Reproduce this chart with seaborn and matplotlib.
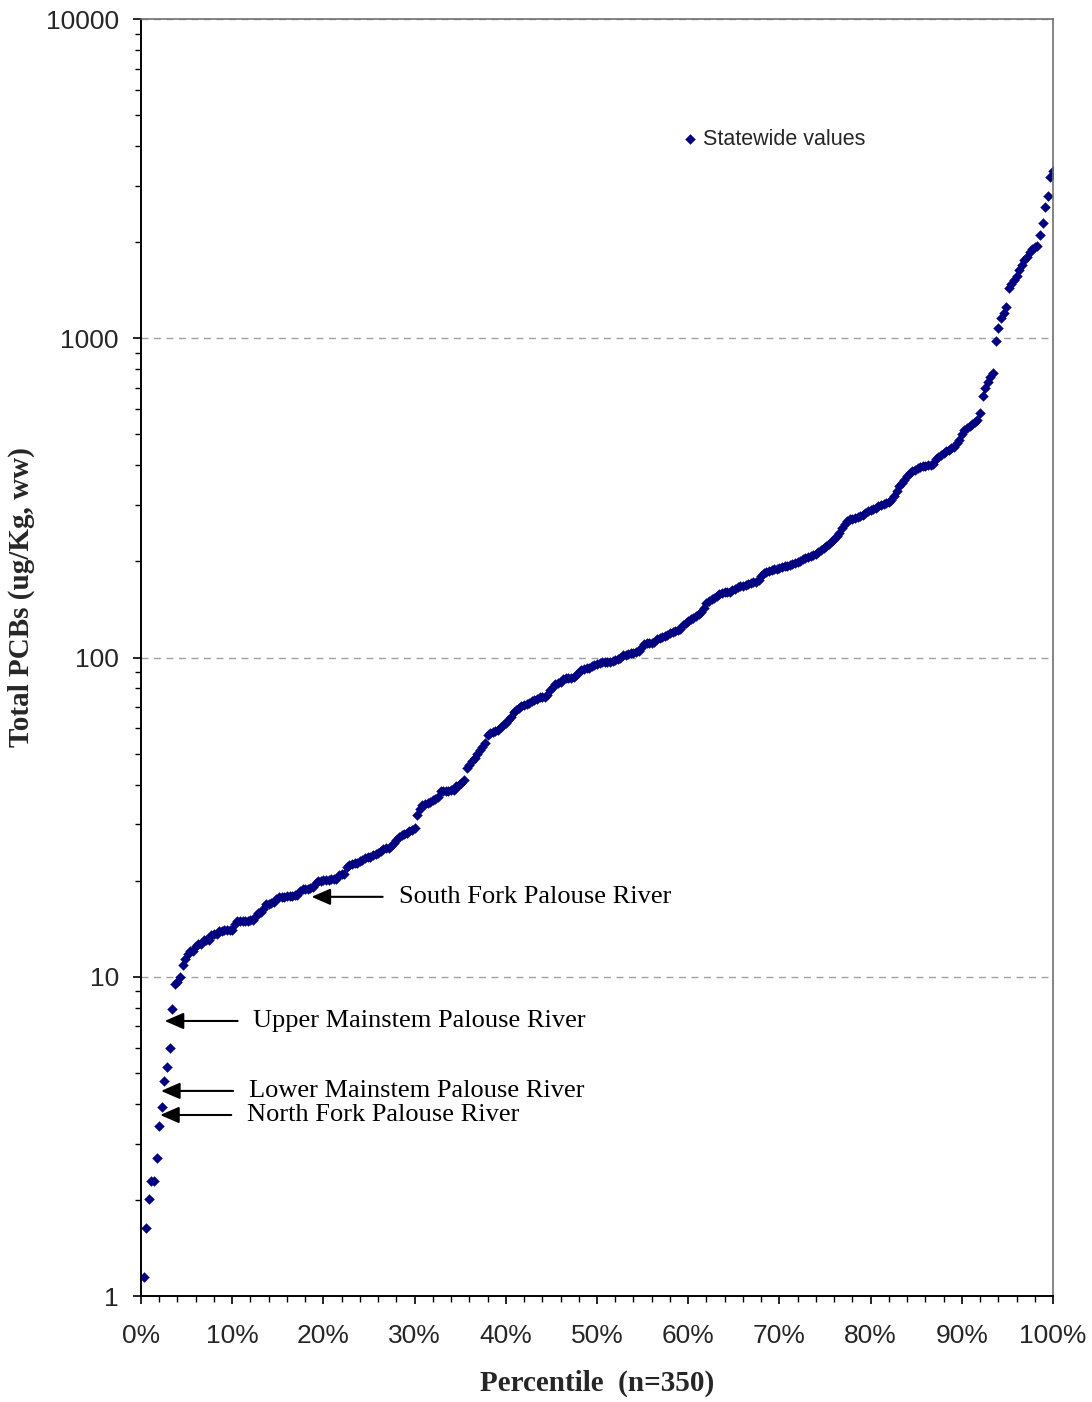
import numpy as np
import pandas as pd
import seaborn as sns
import matplotlib.pyplot as plt
import matplotlib.ticker as mticker

# Total PCBs (ug/Kg, ww), sorted statewide values (n=350)
pcb_1_50 = [1.15, 1.63, 2.02, 2.3, 2.3, 2.7, 3.4, 3.9, 4.7, 5.2,
            6.0, 7.9, 9.5, 9.6, 10.0, 10.9, 11.4, 11.8, 12.0, 12.0,
            12.5, 12.7, 12.7, 13.0, 13.0, 13.0, 13.5, 13.6, 13.6, 13.9,
            13.9, 14.0, 14.0, 14.0, 14.0, 14.6, 14.9, 14.9, 15.0, 15.0,
            15.0, 15.1, 15.1, 15.5, 15.8, 15.9, 16.3, 16.9, 16.9, 17.0]
pcb_51_100 = [17.2, 17.5, 17.8, 17.8, 17.8, 17.9, 17.9, 17.9, 18.0, 18.1,
              18.5, 18.8, 18.9, 18.9, 19.0, 19.1, 19.6, 19.9, 20.0, 20.1,
              20.1, 20.1, 20.2, 20.2, 20.3, 20.8, 21.0, 21.0, 22.0, 22.4,
              22.6, 22.7, 22.8, 23.0, 23.2, 23.5, 23.8, 23.8, 24.0, 24.2,
              24.5, 24.8, 25.2, 25.3, 25.4, 25.7, 26.2, 26.9, 27.4, 27.8]
pcb_101_150 = [28.0, 28.3, 28.7, 28.9, 29.2, 32.1, 33.5, 34.5, 34.8, 35.0,
               35.2, 35.8, 36.0, 36.5, 38.2, 38.3, 38.3, 38.3, 38.4, 38.6,
               39.5, 40.0, 40.5, 41.3, 45.0, 46.2, 47.5, 48.5, 50.0, 51.3,
               52.5, 54.0, 57.0, 58.0, 58.5, 59.0, 59.5, 60.5, 61.5, 62.5,
               63.5, 65.0, 67.5, 68.5, 69.5, 70.5, 71.0, 71.5, 72.0, 73.0]
pcb_151_200 = [73.6, 74.0, 75.0, 75.2, 75.4, 76.5, 79.0, 81.0, 82.5, 83.5,
               84.0, 85.5, 86.0, 86.3, 86.5, 87.0, 88.0, 90.0, 91.4, 92.0,
               92.5, 93.0, 94.0, 94.8, 95.5, 96.0, 96.5, 97.0, 97.0, 97.0,
               97.5, 98.0, 99.0, 100.0, 101.8, 102.0, 102.5, 103.0, 103.5, 104.0,
               105.0, 107.0, 110.0, 110.7, 110.7, 111.0, 112.0, 114.0, 115.0, 116.0]
pcb_201_250 = [117, 118, 119, 120, 121, 122, 123, 126, 128, 130,
               132, 133, 135, 137, 139, 143, 148, 150, 152, 154,
               156, 158, 159.5, 160, 160.5, 161, 163, 164, 166, 167,
               168, 169, 170, 171, 172, 173, 175, 180, 184, 185,
               187, 188, 189, 190, 191, 192, 193, 194, 195, 196]
pcb_251_300 = [198, 199, 201, 203, 205, 207, 208, 209, 211, 214,
               217, 220, 224, 226, 231, 235, 240, 245, 254, 262,
               268, 271, 272, 274, 276, 277, 279, 283, 288, 290,
               292, 295, 298, 300, 303, 305, 308, 312, 320, 333,
               345, 352, 360, 370, 378, 383, 388, 392, 395, 397]
pcb_301_350 = [399, 400, 401, 405, 418, 425, 432, 438, 442, 447,
               452, 458, 470, 480, 500, 515, 525, 533, 538, 547,
               555, 583, 660, 700, 730, 755, 778, 982, 1077, 1160,
               1200, 1253, 1436, 1480, 1520, 1570, 1640, 1695, 1760, 1800,
               1870, 1910, 1932, 1950, 2106, 2302, 2570, 2797, 3192, 3342]

pcb = pcb_1_50 + pcb_51_100 + pcb_101_150 + pcb_151_200 + pcb_201_250 + pcb_251_300 + pcb_301_350
n = len(pcb)
df = pd.DataFrame({'rank': np.arange(1, n + 1), 'pcb': pcb})
df['percentile'] = df['rank'] / n * 100

# River labels: arrow tip (percentile, value), arrow tail percentile, text start percentile
rivers = ['South Fork Palouse River', 'Upper Mainstem Palouse River',
          'Lower Mainstem Palouse River', 'North Fork Palouse River']
tip_x = [18.7, 2.6, 2.2, 2.1]
tip_y = [17.8, 7.27, 4.39, 3.69]
tail_x = [26.5, 10.6, 10.1, 9.9]
text_x = [28.3, 12.3, 11.8, 11.6]

sns.set_style('ticks')
plt.rcParams['font.family'] = ['Liberation Sans', 'DejaVu Sans']

fig = plt.figure(figsize=(10.92, 14.02), dpi=100)
ax = fig.add_axes([0.1291, 0.0756, 0.8352, 0.9108])

sns.scatterplot(data=df, x='percentile', y='pcb', ax=ax, marker='D', s=25,
                color='#000080', edgecolor='#000080', linewidth=0.3,
                label='Statewide values')

ax.set_yscale('log')
ax.set_ylim(1, 10000)
ax.set_xlim(0, 100)

for v in [10, 100, 1000, 10000]:
    ax.axhline(v, color='#a0a0a0', linestyle=(0, (5, 4)), linewidth=1.0, zorder=0)

ax.xaxis.set_major_locator(mticker.MultipleLocator(10))
ax.xaxis.set_minor_locator(mticker.MultipleLocator(2))
ax.xaxis.set_major_formatter(mticker.PercentFormatter(decimals=0))
ax.yaxis.set_major_locator(mticker.LogLocator(base=10))
ax.yaxis.set_minor_locator(mticker.LogLocator(base=10, subs=np.arange(2, 10)))
ax.yaxis.set_major_formatter(mticker.FuncFormatter(lambda v, p: f'{v:g}'))
ax.yaxis.set_minor_formatter(mticker.NullFormatter())

ax.tick_params(axis='both', which='major', direction='out', length=6, width=1.2,
               labelsize=19, color='black')
ax.tick_params(axis='both', which='minor', direction='out', length=4, width=1.0, color='black')
ax.tick_params(axis='x', which='major', pad=14)
ax.tick_params(axis='y', which='major', pad=10)

for side in ['left', 'bottom']:
    ax.spines[side].set_color('black')
    ax.spines[side].set_linewidth(1.4)
for side in ['top', 'right']:
    ax.spines[side].set_color('#707070')
    ax.spines[side].set_linewidth(1.2)

ax.set_xlabel('Percentile  (n=350)', family='Liberation Serif', fontweight='bold',
              fontsize=21, labelpad=16)
ax.set_ylabel('Total PCBs (ug/Kg, ww)', family='Liberation Serif', fontweight='bold',
              fontsize=21)
ax.yaxis.set_label_coords(-0.116, 0.547)

for name, tx, ty, ax_tail, ax_text in zip(rivers, tip_x, tip_y, tail_x, text_x):
    ax.annotate('', xy=(tx, ty), xytext=(ax_tail, ty),
                arrowprops=dict(arrowstyle='-|>,head_length=1.15,head_width=0.5',
                                color='black', lw=1.5, shrinkA=0, shrinkB=0))
    ax.text(ax_text, ty, name, family='Liberation Serif', fontsize=19,
            va='center', ha='left', color='black')

leg = ax.legend(loc='center left', bbox_to_anchor=(0.581, 0.906), frameon=False,
                fontsize=15.5, handletextpad=0.1, handlelength=1.0, borderaxespad=0)
for h in leg.legend_handles:
    h.set_sizes([25])

fig.savefig('out.png', dpi=100)
